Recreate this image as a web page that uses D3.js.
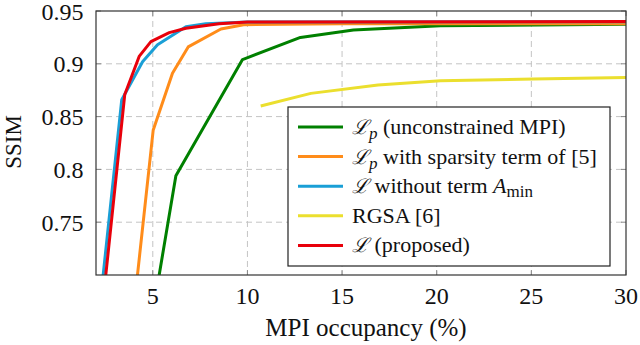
<!DOCTYPE html>
<html>
<head>
<meta charset="utf-8">
<script src="https://cdn.jsdelivr.net/npm/d3@7"></script>
<style>
  body { margin: 0; background: #fff; }
</style>
</head>
<body>
<div id="chart"></div>
<script>
var svgWidth = 640;
var svgHeight = 345;

var margin = { top: 11, right: 14, bottom: 70, left: 96 };
var width = 626 - margin.left;
var height = 275 - margin.top;

var serif = "Liberation Serif";

// series values: [occupancy %, SSIM]
var unconstrained = [[5.15, 0.68], [6.22, 0.794], [9.74, 0.904], [12.8, 0.925], [15.6, 0.932], [20.2, 0.936], [30, 0.9375]];
var sparsity = [[4.07, 0.68], [5.02, 0.837], [6.04, 0.891], [6.87, 0.916], [8.6, 0.933], [9.8, 0.937], [15, 0.938], [30, 0.938]];
var withoutAmin = [[2.26, 0.68], [3.36, 0.866], [4.46, 0.902], [5.25, 0.918], [6.75, 0.935], [7.8, 0.938], [10, 0.9395], [30, 0.9398]];
var rgsa = [[10.7, 0.860], [13.35, 0.872], [16.9, 0.880], [20.2, 0.884], [25.1, 0.8856], [30, 0.887]];
var proposed = [[2.40, 0.68], [3.52, 0.871], [4.28, 0.907], [4.9, 0.921], [5.87, 0.9295], [6.75, 0.9336], [8.5, 0.938], [10, 0.9395], [30, 0.94]];

var xTicks = [5, 10, 15, 20, 25, 30];
var yTicks = [0.75, 0.8, 0.85, 0.9, 0.95];

var series = [
  { name: "unconstrained", data: unconstrained, color: "#008000" },
  { name: "sparsity", data: sparsity, color: "#ff8c1a" },
  { name: "withoutAmin", data: withoutAmin, color: "#1a9fd6" },
  { name: "rgsa", data: rgsa, color: "#ebdf2e" },
  { name: "proposed", data: proposed, color: "#e8000b" }
];

var svg = d3.select("#chart").append("svg")
  .attr("width", svgWidth)
  .attr("height", svgHeight);

svg.append("defs").append("clipPath").attr("id", "clip")
  .append("rect").attr("width", width).attr("height", height);

var chartGroup = svg.append("g")
  .attr("transform", `translate(${margin.left}, ${margin.top})`);

var x = d3.scaleLinear().domain([2, 30]).range([0, width]);
var y = d3.scaleLinear().domain([0.70, 0.95]).range([height, 0]);

// dashed grid
chartGroup.append("g").selectAll("line").data(xTicks.slice(0, -1)).enter()
  .append("line")
  .attr("x1", d => x(d)).attr("x2", d => x(d))
  .attr("y1", 0).attr("y2", height)
  .attr("stroke", "#c4c4c4").attr("stroke-dasharray", "6,4");

chartGroup.append("g").selectAll("line").data(yTicks.slice(0, -1)).enter()
  .append("line")
  .attr("x1", 0).attr("x2", width)
  .attr("y1", d => y(d)).attr("y2", d => y(d))
  .attr("stroke", "#c4c4c4").attr("stroke-dasharray", "6,4");

// inward ticks on all sides
var tickLen = 5;
chartGroup.append("g").selectAll("line").data(xTicks).enter().append("line")
  .attr("x1", d => x(d)).attr("x2", d => x(d)).attr("y1", height).attr("y2", height - tickLen)
  .attr("stroke", "#888");
chartGroup.append("g").selectAll("line").data(xTicks).enter().append("line")
  .attr("x1", d => x(d)).attr("x2", d => x(d)).attr("y1", 0).attr("y2", tickLen)
  .attr("stroke", "#888");
chartGroup.append("g").selectAll("line").data(yTicks).enter().append("line")
  .attr("x1", 0).attr("x2", tickLen).attr("y1", d => y(d)).attr("y2", d => y(d))
  .attr("stroke", "#888");
chartGroup.append("g").selectAll("line").data(yTicks).enter().append("line")
  .attr("x1", width).attr("x2", width - tickLen).attr("y1", d => y(d)).attr("y2", d => y(d))
  .attr("stroke", "#888");

// lines
var line = d3.line().x(d => x(d[0])).y(d => y(d[1]));
var lineGroup = chartGroup.append("g").attr("clip-path", "url(#clip)");
series.forEach(function (s) {
  lineGroup.append("path")
    .datum(s.data)
    .attr("d", line)
    .attr("fill", "none")
    .attr("stroke", s.color)
    .attr("stroke-width", 3)
    .attr("stroke-linejoin", "round");
});

// frame
chartGroup.append("rect")
  .attr("width", width).attr("height", height)
  .attr("fill", "none").attr("stroke", "#333").attr("stroke-width", 1.2);

// tick labels
chartGroup.append("g").selectAll("text").data(xTicks).enter().append("text")
  .attr("x", d => x(d)).attr("y", height + 29)
  .attr("text-anchor", "middle").attr("font-family", serif).attr("font-size", 24).attr("fill", "#111")
  .text(d => d);

chartGroup.append("g").selectAll("text").data(yTicks).enter().append("text")
  .attr("x", -12.5).attr("y", d => y(d) + 8.5)
  .attr("text-anchor", "end").attr("font-family", serif).attr("font-size", 24).attr("fill", "#111")
  .text(d => d);

// axis titles
svg.append("text")
  .attr("x", 366).attr("y", 336)
  .attr("text-anchor", "middle").attr("font-family", serif).attr("font-size", 25).attr("fill", "#111")
  .text("MPI occupancy (%)");

svg.append("text")
  .attr("transform", "translate(21, 142) rotate(-90)")
  .attr("text-anchor", "middle").attr("font-family", serif).attr("font-size", 23).attr("fill", "#111")
  .text("SSIM");

// legend
var legend = svg.append("g").attr("transform", "translate(288, 107)");
legend.append("rect")
  .attr("width", 322).attr("height", 159)
  .attr("fill", "#fff").attr("stroke", "#222").attr("stroke-width", 1.2);

var legendRows = [
  { color: "#008000", parts: [["ℒ", "script"], ["p", "sub"], [" (unconstrained MPI)", "up"]] },
  { color: "#ff8c1a", parts: [["ℒ", "script"], ["p", "sub"], [" with sparsity term of [5]", "up"]] },
  { color: "#1a9fd6", parts: [["ℒ", "script"], [" without term ", ""], ["A", "italic"], ["min", "subr"]] },
  { color: "#ebdf2e", parts: [["RGSA [6]", ""]] },
  { color: "#e8000b", parts: [["ℒ", "script"], [" (proposed)", ""]] }
];

legendRows.forEach(function (r, i) {
  var ry = 20 + i * 29.6;
  legend.append("line")
    .attr("x1", 10).attr("x2", 55).attr("y1", ry).attr("y2", ry)
    .attr("stroke", r.color).attr("stroke-width", 3);
  var t = legend.append("text")
    .attr("x", 64).attr("y", ry + 7)
    .attr("font-family", serif).attr("font-size", 22).attr("fill", "#111");
  r.parts.forEach(function (p) {
    var ts = t.append("tspan").text(p[0]);
    if (p[1] === "script") {
      ts.attr("font-family", "DejaVu Serif").attr("font-style", "italic").attr("font-size", 20);
    } else if (p[1] === "sub") {
      ts.attr("font-style", "italic").attr("font-size", 17).attr("dy", 5);
    } else if (p[1] === "italic") {
      ts.attr("font-style", "italic");
    } else if (p[1] === "subr") {
      ts.attr("font-size", 17).attr("dy", 4);
    } else if (p[1] === "up") {
      ts.attr("dy", -5);
    }
  });
});
</script>
</body>
</html>
